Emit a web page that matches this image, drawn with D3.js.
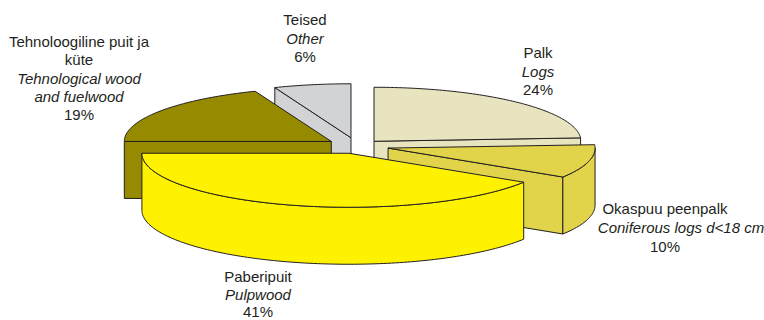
<!DOCTYPE html>
<html>
<head>
<meta charset="utf-8">
<script src="https://cdn.jsdelivr.net/npm/d3@7"></script>
<style>
  body { margin: 0; background: #fff; }
  text { font-family: "Liberation Sans", Arial, sans-serif; font-size: 15px; fill: #231f20; }
</style>
</head>
<body>
<script>
const categories = ["Palk", "Okaspuu peenpalk", "Paberipuit", "Tehnoloogiline puit ja küte", "Teised"];
const values = [24, 10, 41, 19, 6];
const explode = [0.12, 0.155, 0.14, 0.15, 0.155];
const colors = ["#e8e4c0", "#e2d44a", "#fff200", "#968a00", "#d1d3d4"];
// label lines: [text, italic]
const labelLines = [
  [["Palk", 0], ["Logs", 1], ["24%", 0]],
  [["Okaspuu peenpalk", 0], ["Coniferous logs d<18 cm", 1], ["10%", 0]],
  [["Paberipuit", 0], ["Pulpwood", 1], ["41%", 0]],
  [["Tehnoloogiline puit ja", 0], ["küte", 0], ["Tehnological wood", 1], ["and fuelwood", 1], ["19%", 0]],
  [["Teised", 0], ["Other", 1], ["6%", 0]]
];
// [x, baseline] per line
const labelPos = [
  [[538, 58], [538, 76.5], [538, 95]],
  [[665, 214], [681, 233], [665, 252]],
  [[258, 282], [258, 300], [258, 316.5]],
  [[79, 47], [79, 65], [79, 83.5], [79, 102], [79, 120]],
  [[305, 25], [305, 43.5], [305, 62]]
];

const W = 764, H = 320;
const cx = 357, cy = 146, rx = 207, ry = 54, depth = 57;
const drawOrder = [4, 3, 0, 1, 2];

const svg = d3.select("body").append("svg").attr("width", W).attr("height", H);

// clockwise from the top, the first slice starts at 12 o'clock
const arcs = d3.pie().sort(null)(values);

// ground circle to screen, angle in radians
const px = a => rx * Math.sin(a);
const py = a => -ry * Math.cos(a);
const line = d3.line();

function rimPoints(a0, a1, ox, oy) {
  const n = Math.max(2, Math.ceil((a1 - a0) / 0.02));
  return d3.range(n + 1).map(i => {
    const a = a0 + (a1 - a0) * i / n;
    return [ox + px(a), oy + py(a)];
  });
}

const stroke = "#231f20";
function shape(pts, fill) {
  svg.append("path").attr("d", line(pts) + "Z")
    .attr("fill", fill).attr("stroke", stroke).attr("stroke-width", 1).attr("stroke-linejoin", "round");
}

drawOrder.forEach(i => {
  const d = arcs[i], a0 = d.startAngle, a1 = d.endAngle, mid = (a0 + a1) / 2;
  const ox = cx + explode[i] * px(mid), oy = cy + explode[i] * py(mid);

  // cut faces that look at the viewer
  [[a0, Math.sin(a0) < -1e-6], [a1, Math.sin(a1) > 1e-6]].forEach(([a, vis]) => {
    if (!vis) return;
    const rimX = ox + px(a), rimY = oy + py(a);
    shape([[ox, oy], [rimX, rimY], [rimX, rimY + depth], [ox, oy + depth]], colors[i]);
  });

  // outer wall, only the front half of the circle
  const w0 = Math.max(a0, Math.PI / 2), w1 = Math.min(a1, 3 * Math.PI / 2);
  if (w1 > w0) {
    const top = rimPoints(w0, w1, ox, oy);
    const bottom = top.map(p => [p[0], p[1] + depth]).reverse();
    shape(top.concat(bottom), colors[i]);
  }

  // top
  shape([[ox, oy]].concat(rimPoints(a0, a1, ox, oy)), colors[i]);
});

labelLines.forEach((lines, i) => {
  const t = svg.append("text").attr("text-anchor", "middle");
  lines.forEach((l, j) => {
    t.append("tspan")
      .attr("x", labelPos[i][j][0])
      .attr("y", labelPos[i][j][1])
      .attr("font-style", l[1] ? "italic" : "normal")
      .text(l[0]);
  });
});
</script>
</body>
</html>
